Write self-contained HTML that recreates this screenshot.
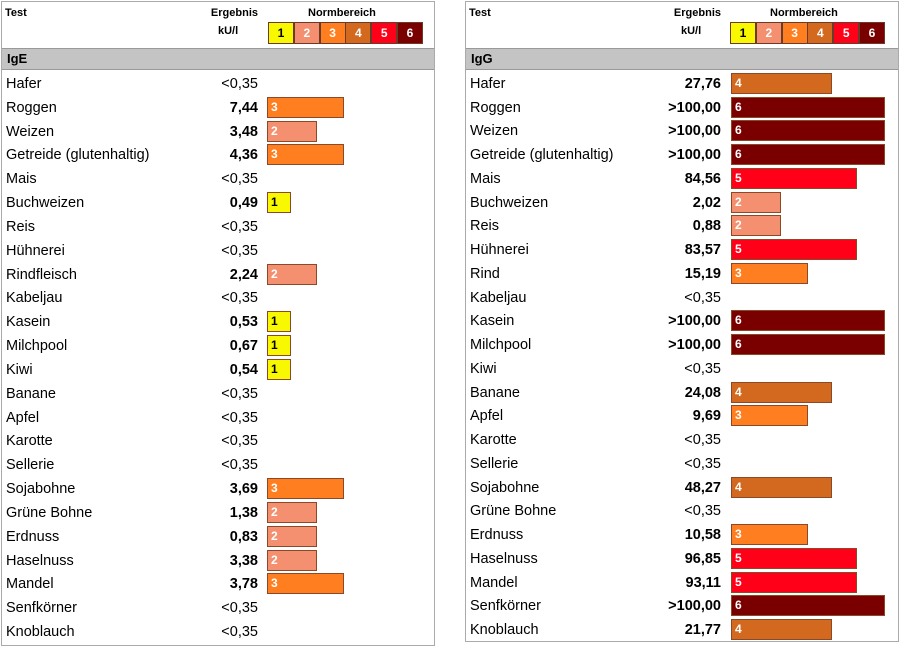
<!DOCTYPE html><html><head><style>
body{margin:0;width:900px;height:646px;background:#fff;position:relative;font-family:"Liberation Sans",sans-serif;overflow:hidden}
.p{position:absolute;border:1px solid #aaa;background:#fff}
.a{position:absolute;white-space:nowrap}
.h{font-size:11px;font-weight:bold}
.g{position:absolute;background:#c4c4c4;border-top:1px solid #999;border-bottom:1px solid #999;font-weight:bold;font-size:13px;line-height:20px;padding-left:5px;box-sizing:border-box}
.n{font-size:14.5px;line-height:18px}
.v{font-size:14.5px;line-height:18px;text-align:right;width:120px}
.b{position:absolute;height:21px;border:1px solid #8a4a2a;box-sizing:border-box;color:#fff;font-weight:bold;font-size:12px;line-height:19px;padding-left:3px}
.lg{position:absolute;height:22px;border:1px solid #6a3a2a;box-sizing:border-box;font-weight:bold;font-size:12px;line-height:20px;text-align:center;color:#fff}
</style></head><body>
<div class="p" style="left:1px;top:1px;width:432px;height:643px"></div>
<div class="p" style="left:465px;top:1px;width:432px;height:639px"></div>
<div id="c"></div>
<script>
var C=['#f8f800','#f49070','#ff7f20','#d2691e','#ff0018','#7a0000'];
var W=[24,50,77,101,126,154];
var L=[["Hafer","<0,35",0],["Roggen","7,44",3],["Weizen","3,48",2],["Getreide (glutenhaltig)","4,36",3],["Mais","<0,35",0],["Buchweizen","0,49",1],["Reis","<0,35",0],["Hühnerei","<0,35",0],["Rindfleisch","2,24",2],["Kabeljau","<0,35",0],["Kasein","0,53",1],["Milchpool","0,67",1],["Kiwi","0,54",1],["Banane","<0,35",0],["Apfel","<0,35",0],["Karotte","<0,35",0],["Sellerie","<0,35",0],["Sojabohne","3,69",3],["Grüne Bohne","1,38",2],["Erdnuss","0,83",2],["Haselnuss","3,38",2],["Mandel","3,78",3],["Senfkörner","<0,35",0],["Knoblauch","<0,35",0]];
var R=[["Hafer","27,76",4],["Roggen",">100,00",6],["Weizen",">100,00",6],["Getreide (glutenhaltig)",">100,00",6],["Mais","84,56",5],["Buchweizen","2,02",2],["Reis","0,88",2],["Hühnerei","83,57",5],["Rind","15,19",3],["Kabeljau","<0,35",0],["Kasein",">100,00",6],["Milchpool",">100,00",6],["Kiwi","<0,35",0],["Banane","24,08",4],["Apfel","9,69",3],["Karotte","<0,35",0],["Sellerie","<0,35",0],["Sojabohne","48,27",4],["Grüne Bohne","<0,35",0],["Erdnuss","10,58",3],["Haselnuss","96,85",5],["Mandel","93,11",5],["Senfkörner",">100,00",6],["Knoblauch","21,77",4]];
var h='';
function panel(x0,title,rows,step,vx,bx,lx){
 h+='<div class="a h" style="left:'+(x0+4)+'px;top:7px">Test</div>';
 h+='<div class="a h" style="left:'+(vx-62)+'px;top:7px;width:62px;text-align:right">Ergebnis</div>';
 h+='<div class="a h" style="left:'+(vx-40)+'px;top:25px">kU/l</div>';
 h+='<div class="a h" style="left:'+(lx+40)+'px;top:7px">Normbereich</div>';
 for(var i=0;i<6;i++)h+='<div class="lg" style="left:'+(lx+i*25.8)+'px;top:22px;width:26px;background:'+C[i]+';color:'+(i==0?'#000':'#fff')+'">'+(i+1)+'</div>';
 h+='<div class="g" style="left:'+(x0+1)+'px;top:48px;width:432px;height:22px">'+title+'</div>';
 rows.forEach(function(r,i){var y=83+i*step;
  h+='<div class="a n" style="left:'+(x0+5)+'px;top:'+(y-8)+'px">'+r[0]+'</div>';
  h+='<div class="a v" style="left:'+(vx-120)+'px;top:'+(y-8)+'px;font-weight:'+(r[2]?'bold':'normal')+'">'+r[1].replace('<','&lt;')+'</div>';
  if(r[2])h+='<div class="b" style="left:'+bx+'px;top:'+(y-10)+'px;width:'+W[r[2]-1]+'px;background:'+C[r[2]-1]+';color:'+(r[2]==1?'#000':'#fff')+'">'+r[2]+'</div>';
 });
}
panel(1,'IgE',L,23.83,258,267,268);
panel(465,'IgG',R,23.74,721,731,730);
document.getElementById('c').innerHTML=h;
</script>
</body></html>
